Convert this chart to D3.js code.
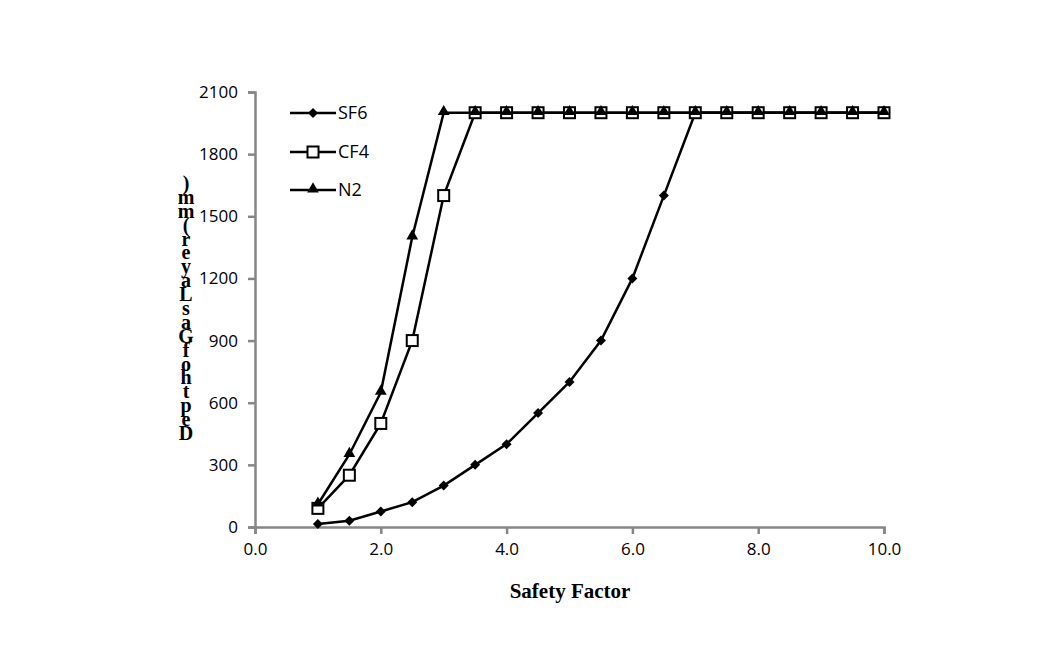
<!DOCTYPE html>
<html><head><meta charset="utf-8">
<script src="https://cdn.jsdelivr.net/npm/d3@7"></script>
<style>body{margin:0;background:#fff;}</style>
</head><body>
<script>
const safetyFactor = [1,1.5,2,2.5,3,3.5,4,4.5,5,5.5,6,6.5,7,7.5,8,8.5,9,9.5,10];
const sf6 = [15,30,75,120,200,300,400,550,700,900,1200,1600,2000,2000,2000,2000,2000,2000,2000];
const cf4 = [90,250,500,900,1600,2000,2000,2000,2000,2000,2000,2000,2000,2000,2000,2000,2000,2000,2000];
const n2  = [110,350,650,1400,2000,2000,2000,2000,2000,2000,2000,2000,2000,2000,2000,2000,2000,2000,2000];
const xTicks = [0,2,4,6,8,10];
const yTicks = [0,300,600,900,1200,1500,1800,2100];
const seriesNames = ["SF6","CF4","N2"];
const yLabel = "Depth of Gas Layer (mm)";
const xLabel = "Safety Factor";

const W=1046,H=646;
const svg=d3.select("body").append("svg").attr("width",W).attr("height",H);
const x=d3.scaleLinear().domain([0,10]).range([255,884]);
const y=d3.scaleLinear().domain([0,2100]).range([527,92]);
const axisColor="#868686";
const sans="'Open Sans','Liberation Sans',sans-serif";
const serif="'Liberation Serif','DejaVu Serif',serif";

const xAxis=svg.append("g").attr("transform",`translate(0,${y(0)})`)
  .call(d3.axisBottom(x).tickValues(xTicks).tickFormat(d3.format(".1f")).tickSize(7).tickPadding(9));
const yAxis=svg.append("g").attr("transform",`translate(${x(0)},0)`)
  .call(d3.axisLeft(y).tickValues(yTicks).tickFormat(d3.format("d")).tickSize(7).tickPadding(10));
[xAxis,yAxis].forEach(a=>{
  a.select(".domain").attr("stroke",axisColor).attr("stroke-width",2.5);
  a.selectAll(".tick line").attr("stroke",axisColor).attr("stroke-width",2.5);
  a.selectAll("text").attr("fill","#000").style("font-family",sans).style("font-size","17px");
});

const data=[sf6,cf4,n2];
const line=d3.line().x((d,i)=>x(safetyFactor[i])).y(d=>y(d));
const g=svg.append("g");
function marker(sel,k,cx,cy){
  if(k===0){
    sel.append("path").attr("d",d3.symbol(d3.symbolDiamond2,64)()).attr("transform",`translate(${cx},${cy})`).attr("fill","#000");
  } else if(k===1){
    sel.append("rect").attr("x",cx-5.5).attr("y",cy-5.5).attr("width",11).attr("height",11).attr("fill","#fff").attr("stroke","#000").attr("stroke-width",2);
  } else {
    sel.append("path").attr("d",d3.symbol(d3.symbolTriangle,60)()).attr("transform",`translate(${cx},${cy-1})`).attr("fill","#000");
  }
}
[0,1,2].forEach(k=>{
  g.append("path").datum(data[k]).attr("d",line).attr("fill","none").attr("stroke","#000").attr("stroke-width",2.5);
  data[k].forEach((v,i)=>marker(g,k,x(safetyFactor[i]),y(v)));
});

// legend
const legY=[113,152,190];
seriesNames.forEach((n,k)=>{
  svg.append("line").attr("x1",290).attr("x2",336).attr("y1",legY[k]).attr("y2",legY[k]).attr("stroke","#000").attr("stroke-width",2.5);
  marker(svg,k,313,legY[k]);
  svg.append("text").attr("x",338).attr("y",legY[k]+6).text(n)
    .style("font-family",sans).style("font-size","18px");
});

// x title
svg.append("text").attr("x",570).attr("y",598).attr("text-anchor","middle").text(xLabel)
  .style("font-family",serif).style("font-weight","bold").style("font-size","21px");

// y title: stacked characters, reversed bottom-to-top
const chars=yLabel.replace(/ /g,"").split("");
const yc=d3.scaleLinear().domain([0,chars.length-1]).range([440,190]);
chars.forEach((c,i)=>{
  svg.append("text").attr("x",186).attr("y",yc(i)).attr("text-anchor","middle").text(c)
    .style("font-family",serif).style("font-weight","bold").style("font-size","20px");
});
</script>
</body></html>
